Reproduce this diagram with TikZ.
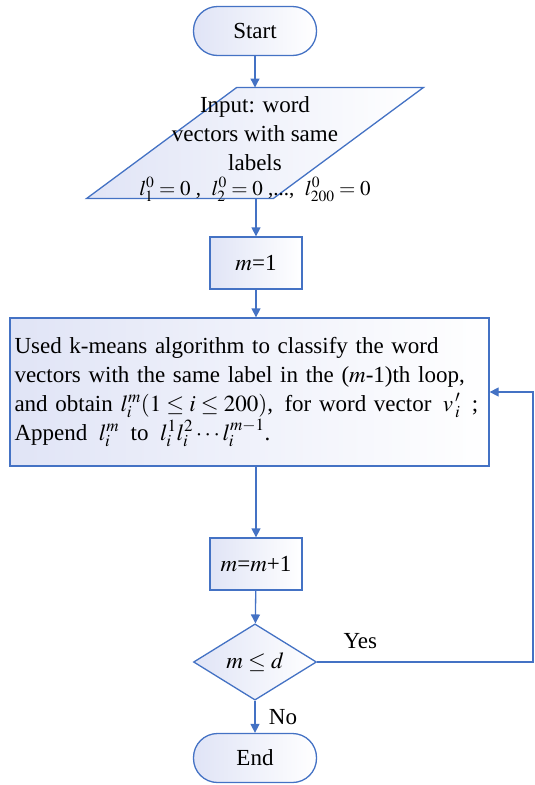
\documentclass[tikz,border=0pt]{standalone}
\usepackage{mathptmx}
\usepackage{fontspec}
\setmainfont{Liberation Serif}
\usetikzlibrary{shapes.geometric, arrows.meta}

\definecolor{flowline}{RGB}{68,114,196}
\definecolor{flowfill}{RGB}{224,228,246}

\begin{document}
\begin{tikzpicture}[x=1pt, y=-1pt, >={Triangle[length=9pt,width=9pt]},
  every node/.style={font=\fontsize{23}{29}\selectfont},
  box/.style={draw=flowline, line width=1.3pt, left color=flowfill, right color=white},
  terminal/.style={box, rectangle, rounded corners=24pt, minimum width=123pt, minimum height=49pt},
  process/.style={box, rectangle, minimum width=92pt, minimum height=52pt},
  flow/.style={draw=flowline, line width=1.3pt, ->}]

\useasboundingbox (0,0) rectangle (535,785);

\node[terminal] (start) at (255,31) {Start};
\node[box, trapezium, trapezium left angle=63.6, trapezium right angle=116.4,
      trapezium stretches=true, minimum width=337pt, minimum height=111pt,
      inner sep=2pt] (input) at (255,143) {\strut};
\node[align=center, inner sep=0pt] (inputtext) at (255,149)
  {Input: word\\vectors with same\\labels\\[-4pt]
   \fontsize{21}{24}\selectfont
   $l_1^0=0$ ,\enspace $l_2^0=0$ ,...,\enspace $l_{200}^0=0$};
\node[process] (m1) at (256,263) {$m$=1};
\node[box, rectangle, minimum width=479pt, minimum height=148pt, text width=470pt,
      align=left, inner sep=3pt] (loop) at (249.5,392)
  {Used k-means algorithm to classify the word\\
   vectors with the same label in the ($m$-1)th loop,\\
   and obtain $l_i^m(1\le i\le 200)$,\enspace for word vector\enspace $v_{\,i}^{\,\prime}$\enspace;\\
   Append\enspace $l_i^m$\enspace to\enspace $l_i^1l_i^2\cdots l_i^{m-1}$.};
\node[process] (mm1) at (256,564) {$m$=$m$+1};
\node[box, diamond, minimum width=123pt, minimum height=71pt, inner sep=0pt] (cond) at (255,662) {$m\le d$};
\node[terminal] (end) at (255,758) {End};

% top and bottom edges of the input parallelogram
\coordinate (intop) at (255,87.5);
\coordinate (inbot) at (256,198.5);
\coordinate (turn) at (533,662);

\draw[flow] (start.south) -- (intop);
\draw[flow] (inbot) -- (m1.north);
\draw[flow] (m1.south) -- (m1.south |- loop.north);
\draw[flow] (loop.south -| mm1) -- (mm1);
\draw[flow] (mm1) -- (cond);
\draw[flow] (cond) -- node[right=10pt]{No} (end);
\draw[flow] (cond.east) -- node[pos=0.2, above=9pt]{Yes} (turn) |- (loop.east);

\end{tikzpicture}
\end{document}
